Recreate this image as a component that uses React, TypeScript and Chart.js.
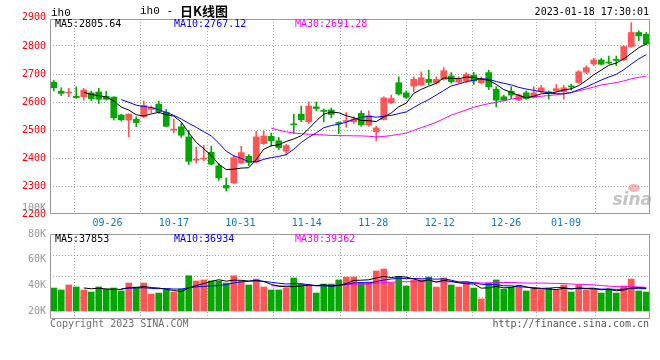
import React, { useEffect, useRef } from "react";
import { Chart, registerables } from "chart.js";

Chart.register(...registerables);

// ---------- data ----------
const DATES = [
  "09-21", "09-22", "09-23", "09-26", "09-27", "09-28", "09-29", "09-30",
  "10-10", "10-11", "10-12", "10-13", "10-14", "10-17", "10-18", "10-19", "10-20", "10-21",
  "10-24", "10-25", "10-26", "10-27", "10-28", "10-31",
  "11-01", "11-02", "11-03", "11-04", "11-07", "11-08", "11-09", "11-10", "11-11",
  "11-14", "11-15", "11-16", "11-17", "11-18", "11-21", "11-22", "11-23", "11-24", "11-25",
  "11-28", "11-29", "11-30",
  "12-01", "12-02", "12-05", "12-06", "12-07", "12-08", "12-09", "12-12", "12-13", "12-14",
  "12-15", "12-16", "12-19", "12-20", "12-21", "12-22", "12-23", "12-26", "12-27", "12-28",
  "12-29", "12-30",
  "01-03", "01-04", "01-05", "01-06", "01-09", "01-10", "01-11", "01-12", "01-13",
  "01-16", "01-17", "01-18",
];

const OPEN = [
  2671, 2639, 2632, 2621, 2619, 2633, 2636, 2621, 2618, 2554,
  2536, 2539, 2548, 2574, 2593, 2564, 2500, 2512, 2476, 2393,
  2397, 2421, 2373, 2303, 2312, 2383, 2407, 2387, 2452, 2478,
  2462, 2425, 2521, 2557, 2530, 2583, 2570, 2572, 2527, 2531,
  2530, 2560, 2518, 2494, 2538, 2598, 2669, 2633, 2657, 2661,
  2681, 2669, 2681, 2693, 2671, 2675, 2696, 2669, 2705, 2646,
  2619, 2639, 2607, 2633, 2617, 2637, 2635, 2640, 2637, 2656,
  2670, 2706, 2736, 2750, 2741, 2752, 2750, 2798, 2848, 2842,
];
const HIGH = [
  2677, 2651, 2649, 2654, 2649, 2639, 2649, 2639, 2619, 2557,
  2558, 2548, 2604, 2586, 2604, 2574, 2539, 2524, 2500, 2440,
  2446, 2443, 2381, 2330, 2411, 2443, 2413, 2496, 2496, 2490,
  2474, 2450, 2557, 2586, 2601, 2600, 2576, 2579, 2530, 2563,
  2548, 2569, 2569, 2514, 2619, 2625, 2690, 2640, 2690, 2708,
  2714, 2690, 2723, 2705, 2690, 2705, 2706, 2690, 2714, 2655,
  2625, 2655, 2629, 2640, 2655, 2660, 2640, 2663, 2660, 2664,
  2712, 2729, 2756, 2756, 2764, 2764, 2800, 2883, 2854, 2848,
];
const LOW = [
  2640, 2623, 2619, 2613, 2607, 2605, 2595, 2607, 2536, 2533,
  2476, 2512, 2544, 2562, 2560, 2512, 2490, 2474, 2377, 2383,
  2390, 2377, 2321, 2283, 2310, 2381, 2373, 2383, 2450, 2443,
  2431, 2411, 2488, 2530, 2524, 2569, 2530, 2544, 2488, 2510,
  2524, 2514, 2514, 2462, 2536, 2595, 2625, 2613, 2637, 2658,
  2661, 2664, 2678, 2667, 2667, 2669, 2663, 2665, 2645, 2583,
  2605, 2612, 2605, 2610, 2614, 2634, 2610, 2637, 2610, 2643,
  2667, 2702, 2730, 2732, 2736, 2730, 2748, 2795, 2819, 2804,
];
const CLOSE = [
  2651, 2631, 2634, 2616, 2643, 2612, 2610, 2610, 2544, 2537,
  2557, 2527, 2588, 2580, 2566, 2514, 2503, 2482, 2389, 2396,
  2400, 2379, 2330, 2294, 2402, 2420, 2385, 2476, 2479, 2462,
  2438, 2445, 2519, 2537, 2586, 2577, 2567, 2556, 2524, 2534,
  2540, 2519, 2552, 2508, 2615, 2613, 2629, 2617, 2681, 2687,
  2670, 2681, 2712, 2673, 2681, 2699, 2675, 2679, 2655, 2607,
  2607, 2625, 2625, 2613, 2633, 2651, 2633, 2648, 2651, 2654,
  2708, 2723, 2750, 2735, 2739, 2748, 2798, 2848, 2836, 2807,
];
const VOLUME = [
  37900, 36400, 40300, 38700, 36400, 34800, 38700, 37100, 37900, 35600,
  41800, 38700, 41800, 33200, 34000, 36400, 34800, 37100, 47500, 43400,
  44200, 43400, 43400, 41800, 47500, 43400, 40300, 44900, 38700, 36400,
  36400, 37900, 45700, 41000, 40300, 34000, 41000, 41000, 44200, 46500,
  46500, 41800, 42600, 51200, 52700, 41800, 46500, 39500, 44200, 44200,
  46500, 38700, 45700, 40300, 38700, 42600, 37900, 29400, 41800, 44200,
  37100, 38700, 38700, 35600, 37100, 36400, 37900, 36400, 40300, 34800,
  40300, 36400, 37100, 34000, 37100, 34000, 39500, 44900, 35600, 34800,
];

const X_TICK_INDEX = [3, 13, 23, 33, 43, 53, 63, 72];
const PRICE_TICKS = [2200, 2300, 2400, 2500, 2600, 2700, 2800, 2900];
const VOLUME_TICKS = [20000, 40000, 60000, 80000, 100000];
const VOLUME_GRID_TICKS = [1, 2, 3];

const SYMBOL = "ih0";
const TITLE_CODE = "ih0 -";
const TITLE_CN = "日K线图";
const TIMESTAMP = "2023-01-18 17:30:01";
const PRICE_MA_LEGEND = ["MA5:2805.64", "MA10:2767.12", "MA30:2691.28"];
const VOLUME_MA_LEGEND = ["MA5:37853", "MA10:36934", "MA30:39362"];
const COPYRIGHT = "Copyright 2023 SINA.COM";
const URL_TEXT = "http://finance.sina.com.cn";

// ---------- styles ----------
const RED = "#ff5555";
const GREEN = "#00a800";
const MA_COLORS = ["#000000", "#0000ff", "#ff00ff"];
const FRAME = "#999999";
const GRID = "#a6a6a6";
const MONO = "'DejaVu Sans Mono', monospace";

function movingAverage(values: number[], n: number): (number | null)[] {
  return values.map((_, i) => {
    if (i < n - 1) return null;
    let s = 0;
    for (let k = i - n + 1; k <= i; k++) s += values[k];
    return s / n;
  });
}

const candleColors = DATES.map((_, i) => (CLOSE[i] >= OPEN[i] ? RED : GREEN));

function drawFrame(ctx: CanvasRenderingContext2D, a: any) {
  const L = Math.round(a.left) + 0.5;
  const R = Math.round(a.right) - 0.5;
  const T = Math.round(a.top) + 0.5;
  const B = Math.round(a.bottom) + 0.5;
  ctx.strokeStyle = FRAME;
  ctx.lineWidth = 1;
  ctx.setLineDash([]);
  ctx.beginPath();
  ctx.rect(L, T, R - L, B - T);
  ctx.stroke();
}

function drawLegend(ctx: CanvasRenderingContext2D, a: any, texts: string[]) {
  ctx.font = `10px ${MONO}`;
  ctx.textAlign = "left";
  ctx.textBaseline = "middle";
  const xs = [a.left + 5, a.left + 124, a.left + 245];
  texts.forEach((t, i) => {
    ctx.fillStyle = MA_COLORS[i];
    ctx.fillText(t, xs[i], a.top + 5);
  });
}

const pricePlugin = {
  id: "priceDecor",
  beforeDatasetsDraw(chart: any) {
    const { ctx, chartArea: a } = chart;
    ctx.save();
    ctx.font = "italic bold 17px 'DejaVu Sans', sans-serif";
    ctx.fillStyle = "rgba(165,165,165,0.65)";
    ctx.textAlign = "right";
    ctx.textBaseline = "alphabetic";
    ctx.fillText("sina", a.right + 2, a.bottom - 8);
    ctx.fillStyle = "rgba(240,110,110,0.5)";
    ctx.beginPath();
    ctx.ellipse(a.right - 16, a.bottom - 25, 6, 4, 0, 0, Math.PI * 2);
    ctx.fill();
    ctx.restore();
  },
  afterDraw(chart: any) {
    const { ctx, chartArea: a } = chart;
    ctx.save();
    drawFrame(ctx, a);
    drawLegend(ctx, a, PRICE_MA_LEGEND);
    ctx.fillStyle = "#000";
    ctx.textBaseline = "middle";
    ctx.textAlign = "left";
    ctx.font = "11px 'Liberation Mono', monospace";
    ctx.fillText(SYMBOL, a.left + 1, 13);
    ctx.fillText(TITLE_CODE, a.left + 90, 11);
    ctx.font = "bold 13px 'Noto Sans CJK SC', sans-serif";
    ctx.fillText(TITLE_CN, a.left + 130, 11);
    ctx.font = `10px ${MONO}`;
    ctx.textAlign = "right";
    ctx.fillText(TIMESTAMP, a.right - 1, 12);
    ctx.restore();
  },
};

const volumePlugin = {
  id: "volumeDecor",
  afterDraw(chart: any) {
    const { ctx, chartArea: a } = chart;
    ctx.save();
    drawFrame(ctx, a);
    drawLegend(ctx, a, VOLUME_MA_LEGEND);
    ctx.font = `10px ${MONO}`;
    ctx.textBaseline = "middle";
    ctx.textAlign = "left";
    ctx.fillStyle = "#707070";
    ctx.fillText(COPYRIGHT, a.left, a.bottom + 6);
    ctx.textAlign = "right";
    ctx.fillStyle = "#555555";
    ctx.fillText(URL_TEXT, a.right - 1, a.bottom + 6);
    ctx.restore();
  },
};

function lineDataset(label: string, data: (number | null)[], color: string, yAxisID: string) {
  return {
    type: "line" as const,
    label,
    data,
    borderColor: color,
    backgroundColor: color,
    borderWidth: 1,
    pointRadius: 0,
    tension: 0,
    xAxisID: "x",
    yAxisID,
    order: 0,
  };
}

function gridAxis() {
  return {
    type: "linear" as const,
    position: "bottom" as const,
    min: 0,
    max: DATES.length - 1,
    afterBuildTicks: (s: any) => {
      s.ticks = X_TICK_INDEX.map((v) => ({ value: v }));
    },
    grid: { color: GRID, lineWidth: 1, drawTicks: false },
    border: { display: false, dash: [1, 2] },
  };
}

export default function App() {
  const priceRef = useRef<HTMLCanvasElement>(null);
  const volRef = useRef<HTMLCanvasElement>(null);

  useEffect(() => {
    if (!priceRef.current || !volRef.current) return;

    const priceChart = new Chart(priceRef.current, {
      type: "bar",
      data: {
        labels: DATES,
        datasets: [
          lineDataset("MA5", movingAverage(CLOSE, 5), MA_COLORS[0], "y"),
          lineDataset("MA10", movingAverage(CLOSE, 10), MA_COLORS[1], "y"),
          lineDataset("MA30", movingAverage(CLOSE, 30), MA_COLORS[2], "y"),
          {
            type: "bar",
            label: "body",
            data: DATES.map((_, i) => [OPEN[i], CLOSE[i]]),
            backgroundColor: candleColors,
            borderWidth: 0,
            barThickness: 6,
            minBarLength: 1,
            grouped: false,
            xAxisID: "x",
            yAxisID: "y",
            order: 1,
          },
          {
            type: "bar",
            label: "wick",
            data: DATES.map((_, i) => [LOW[i], HIGH[i]]),
            backgroundColor: candleColors,
            borderWidth: 0,
            barThickness: 1,
            grouped: false,
            xAxisID: "x",
            yAxisID: "y",
            order: 2,
          },
        ] as any,
      },
      options: {
        animation: false,
        responsive: false,
        events: [],
        layout: { padding: { left: 0, right: 10, top: 19, bottom: 0 } },
        plugins: { legend: { display: false }, tooltip: { enabled: false } },
        scales: {
          x: { type: "category", display: false, offset: true },
          xg: {
            ...gridAxis(),
            afterFit: (s: any) => {
              s.height = 17;
            },
            ticks: {
              autoSkip: false,
              maxRotation: 0,
              padding: 4,
              color: "#0a78c8",
              font: { family: MONO, size: 10 },
              callback: (v: any) => DATES[v as number],
            },
          },
          y: {
            type: "linear",
            position: "left",
            min: 2205,
            max: 2896,
            afterBuildTicks: (s: any) => {
              s.ticks = PRICE_TICKS.map((v) => ({ value: v }));
            },
            afterFit: (s: any) => {
              s.width = 50;
            },
            grid: {
              drawTicks: false,
              lineWidth: 1,
              color: (c: any) =>
                c.tick && (c.tick.value < 2250 || c.tick.value > 2850) ? "rgba(0,0,0,0)" : GRID,
            },
            border: { display: false, dash: [1, 2] },
            ticks: {
              padding: 4,
              color: "#ff0000",
              font: { family: MONO, size: 10 },
              callback: (v: any) => String(v),
            },
          },
        },
      } as any,
      plugins: [pricePlugin],
    });

    const volumeChart = new Chart(volRef.current, {
      type: "bar",
      data: {
        labels: DATES,
        datasets: [
          lineDataset("MA5", movingAverage(VOLUME, 5), MA_COLORS[0], "y"),
          lineDataset("MA10", movingAverage(VOLUME, 10), MA_COLORS[1], "y"),
          lineDataset("MA30", movingAverage(VOLUME, 30), MA_COLORS[2], "y"),
          {
            type: "bar",
            label: "volume",
            data: VOLUME,
            base: 20000,
            backgroundColor: candleColors,
            borderWidth: 0,
            barThickness: 6,
            grouped: false,
            xAxisID: "x",
            yAxisID: "y",
            order: 1,
          },
        ] as any,
      },
      options: {
        animation: false,
        responsive: false,
        events: [],
        layout: { padding: { left: 0, right: 10, top: 39, bottom: 42 } },
        plugins: { legend: { display: false }, tooltip: { enabled: false } },
        scales: {
          x: { type: "category", display: false, offset: true },
          xg: {
            ...gridAxis(),
            afterFit: (s: any) => {
              s.height = 0;
            },
            ticks: { display: false },
          },
          y: {
            type: "linear",
            position: "left",
            min: 14545,
            max: 80000,
            afterBuildTicks: (s: any) => {
              s.ticks = VOLUME_TICKS.map((v) => ({ value: v }));
            },
            afterFit: (s: any) => {
              s.width = 50;
            },
            grid: { display: false, drawTicks: false },
            border: { display: false },
            ticks: {
              padding: 4,
              color: "#999999",
              font: { family: MONO, size: 10 },
              callback: (v: any) => `${Math.round((v as number) / 1000)}K`,
            },
          },
          yg: {
            type: "linear",
            position: "right",
            min: 0,
            max: 4,
            afterBuildTicks: (s: any) => {
              s.ticks = VOLUME_GRID_TICKS.map((v) => ({ value: v }));
            },
            afterFit: (s: any) => {
              s.width = 0;
            },
            grid: { color: GRID, lineWidth: 1, drawTicks: false },
            border: { display: false, dash: [1, 2] },
            ticks: { display: false },
          },
        },
      } as any,
      plugins: [volumePlugin],
    });

    return () => {
      priceChart.destroy();
      volumeChart.destroy();
    };
  }, []);

  return (
    <div
      style={{
        position: "absolute",
        left: 0,
        top: 0,
        width: 660,
        height: 360,
        background: "#ffffff",
        overflow: "hidden",
      }}
    >
      <canvas
        ref={priceRef}
        width={660}
        height={230}
        style={{ position: "absolute", left: 0, top: 0, width: 660, height: 230 }}
      />
      <canvas
        ref={volRef}
        width={660}
        height={165}
        style={{ position: "absolute", left: 0, top: 195, width: 660, height: 165 }}
      />
    </div>
  );
}
